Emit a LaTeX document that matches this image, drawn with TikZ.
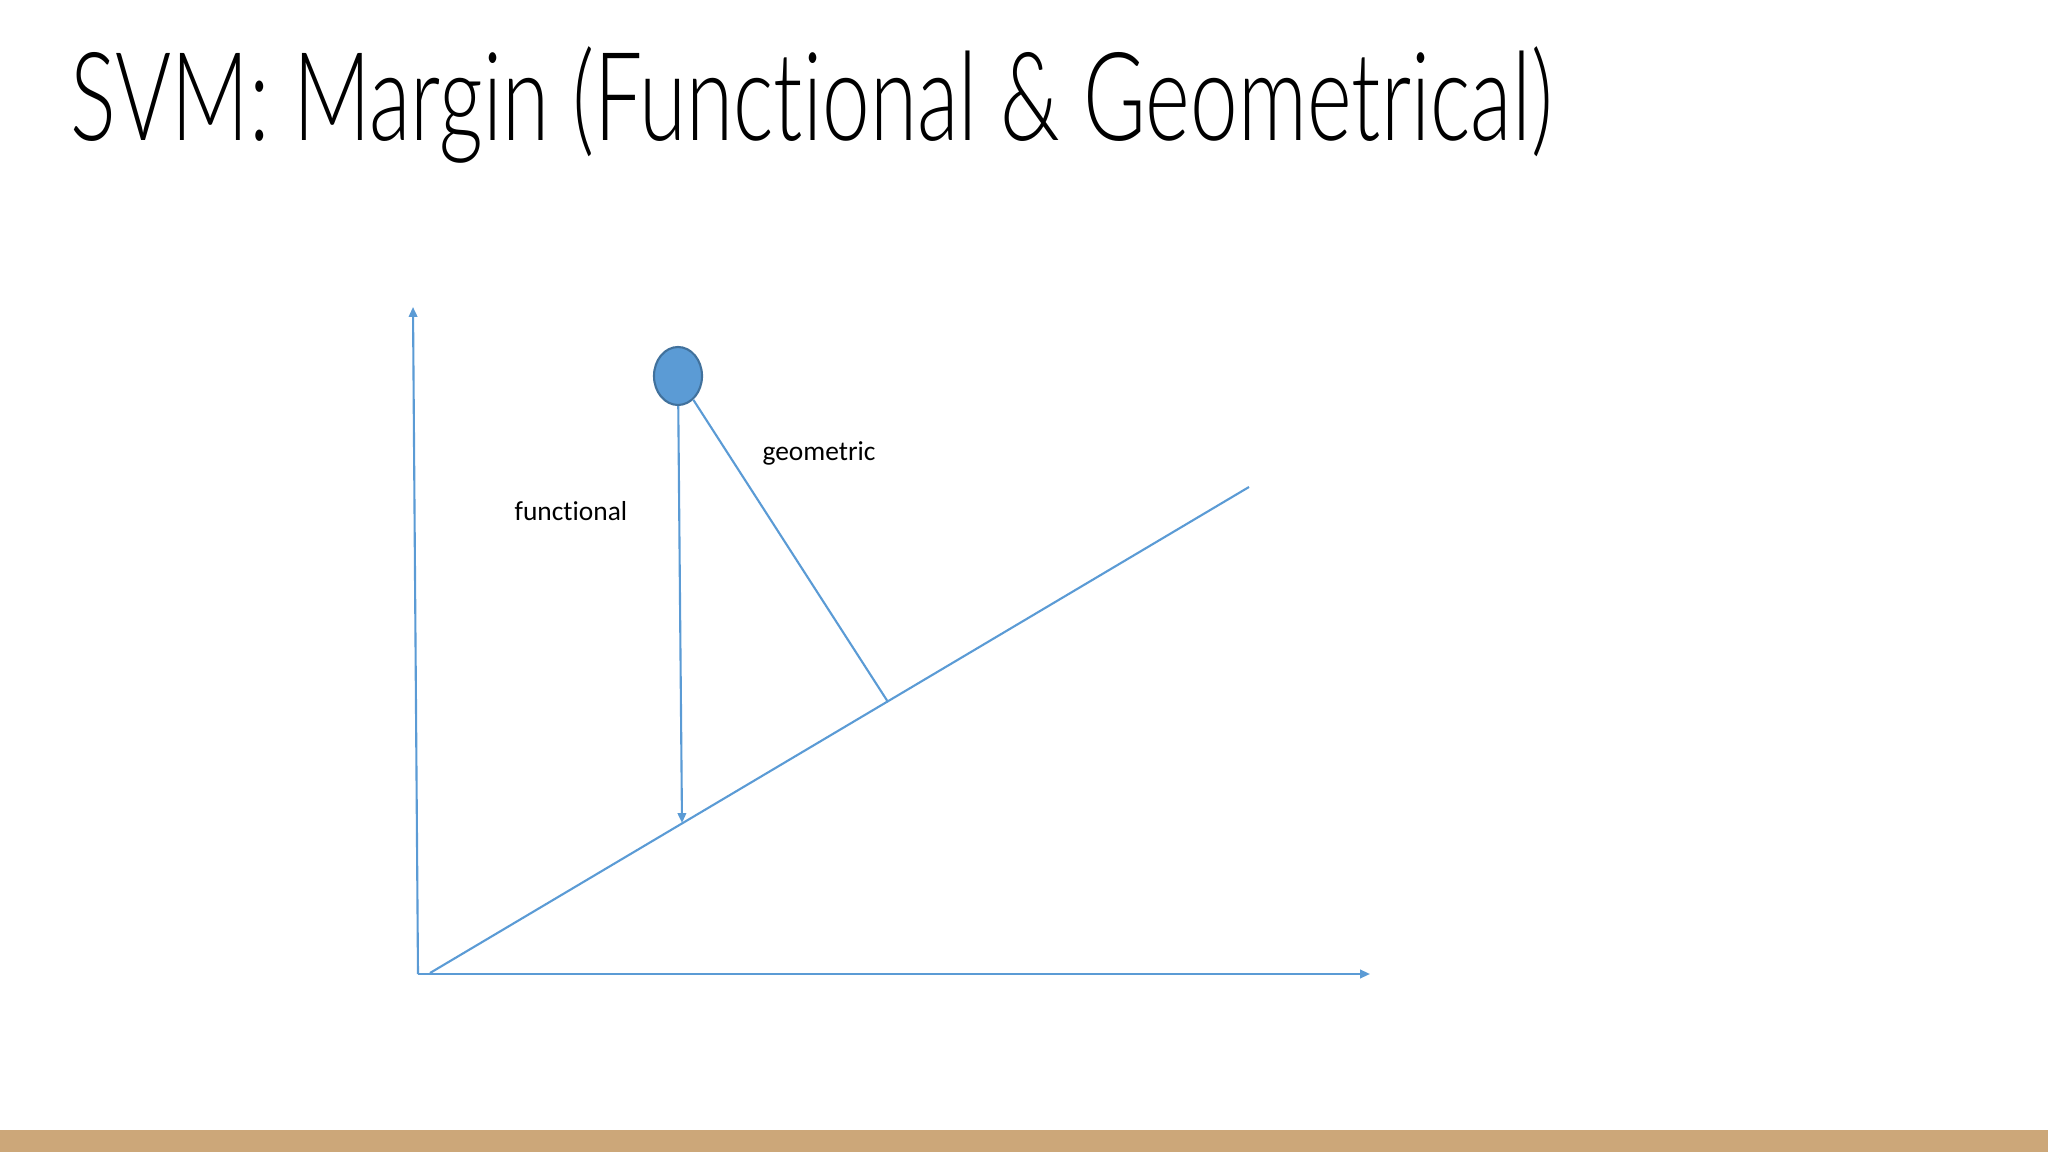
\documentclass[tikz,border=0pt]{standalone}
\usepackage{fontspec}
\usepackage{tikz}
\usetikzlibrary{arrows.meta,shapes.geometric,positioning}
\newfontfamily\titlefont[FakeStretch=0.695,Ligatures=NoCommon]{Lato Light}
\newfontfamily\labelfont[Ligatures=NoCommon]{Carlito}
\definecolor{lineblue}{RGB}{91,155,213}
\definecolor{dotedge}{RGB}{65,113,156}
\definecolor{bartan}{RGB}{204,167,121}

\begin{document}
\begin{tikzpicture}[x=0.01cm, y=-0.01cm,
  axis/.style={draw=lineblue, line width=0.6pt, -{Triangle[length=2.8pt,width=2.4pt]}},
  plain/.style={draw=lineblue, line width=0.6pt},
  lbl/.style={font=\labelfont\fontsize{7.8}{9}\selectfont, inner sep=0pt}]
\useasboundingbox (0,0) rectangle (2048,1152);
\fill[bartan] (0,1130) rectangle (2048,1152);

\node[anchor=base west, inner sep=0pt, font=\titlefont\fontsize{35}{40}\selectfont] (title) at (70,141) {SVM: Margin (Functional \& Geometrical)};

\foreach \pos/\name in {{(418,974)/origin}, {(413,307)/ytip}, {(1370,974)/xtip}, {(430,973)/hstart}, {(1249,487)/hend}, {(682,823)/ffoot}, {(888,702)/gfoot}}
\node[coordinate] (\name) at \pos {};

\node[ellipse, fill=lineblue, draw=dotedge, line width=0.6pt, minimum width=0.48cm, minimum height=0.58cm, inner sep=0pt] (pt) at (678,376) {};

% axes and the separating line
\foreach \source/ \dest in {origin/ytip, origin/xtip}
\path[axis] (\source) -- (\dest);
\path[plain] (hstart) -- (hend);

% the two margins
\path[axis] (pt) -- (ffoot);
\path[plain] (pt) -- (gfoot);

\node[lbl] (functional) at (571,511) {functional};
\node[lbl] (geometric) at (819,453) {geometric};

\end{tikzpicture}
\end{document}
